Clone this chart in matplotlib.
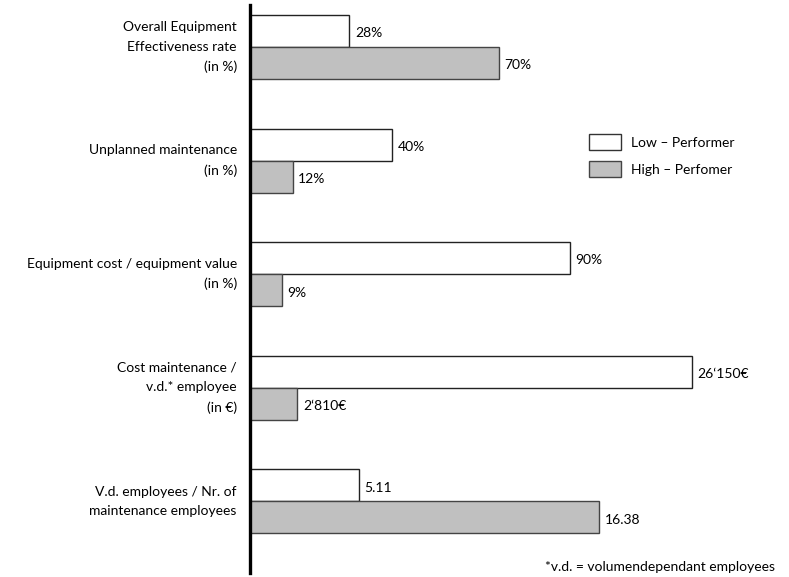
import numpy as np
import matplotlib.pyplot as plt
from matplotlib.patches import Patch

plt.rcParams['font.family'] = ['Lato', 'DejaVu Sans']

# KPI categories and values for the two performer groups
categories = [
    "Overall Equipment\nEffectiveness rate\n(in %)",
    "Unplanned maintenance\n(in %)",
    "Equipment cost / equipment value\n(in %)",
    "Cost maintenance /\nv.d.* employee\n(in €)",
    "V.d. employees / Nr. of\nmaintenance employees",
]
low_values = [28, 40, 90, 26150, 5.11]
high_values = [70, 12, 9, 2810, 16.38]
low_labels = ["28%", "40%", "90%", "26\u2018150€", "5.11"]
high_labels = ["70%", "12%", "9%", "2\u2018810€", "16.38"]
# each KPI has its own unit, so every row gets its own length factor
row_scale = [1.0, 1.0, 1.0, 0.00476, 6.0]

fig = plt.figure(figsize=(7.89, 5.77), dpi=100)
ax = fig.add_axes([250 / 789, 4 / 577, 539 / 789, 568 / 577])

y = np.arange(len(categories))
h = 0.282
low_len = np.array(low_values) * np.array(row_scale)
high_len = np.array(high_values) * np.array(row_scale)

ax.barh(y - h / 2, low_len, height=h, color="white", edgecolor="#222222", linewidth=1)
ax.barh(y + h / 2, high_len, height=h, color="#c0c0c0", edgecolor="#444444", linewidth=1)

for i in range(len(categories)):
    ax.text(low_len[i] + 1.6, y[i] - h / 2 + 0.02, low_labels[i], va="center", ha="left", fontsize=10)
    ax.text(high_len[i] + 1.6, y[i] + h / 2 + 0.02, high_labels[i], va="center", ha="left", fontsize=10)
    ax.text(-3.7, y[i] + 0.0, categories[i], va="center", ha="right", fontsize=10,
            linespacing=1.75)

ax.set_xlim(0, 151.8)
ax.set_ylim(4.63, -0.37)
for side in ["top", "right", "bottom"]:
    ax.spines[side].set_visible(False)
ax.spines["left"].set_linewidth(2.4)
ax.set_xticks([])
ax.set_yticks([])

handles = [
    Patch(facecolor="white", edgecolor="#333333", linewidth=1, label="Low \u2013 Performer"),
    Patch(facecolor="#c0c0c0", edgecolor="#444444", linewidth=1, label="High \u2013 Perfomer"),
]
fig.legend(handles=handles, loc="upper left", bbox_to_anchor=(589 / 789, 1 - 134 / 577),
           frameon=False, fontsize=10, handlelength=2.3, handleheight=1.4,
           handletextpad=0.75, labelspacing=0.8, borderpad=0, borderaxespad=0)

fig.text(775 / 789, 1 - 567 / 577, "*v.d. = volumendependant employees", ha="right",
         va="center", fontsize=10)

fig.savefig("out.png", dpi=100)
